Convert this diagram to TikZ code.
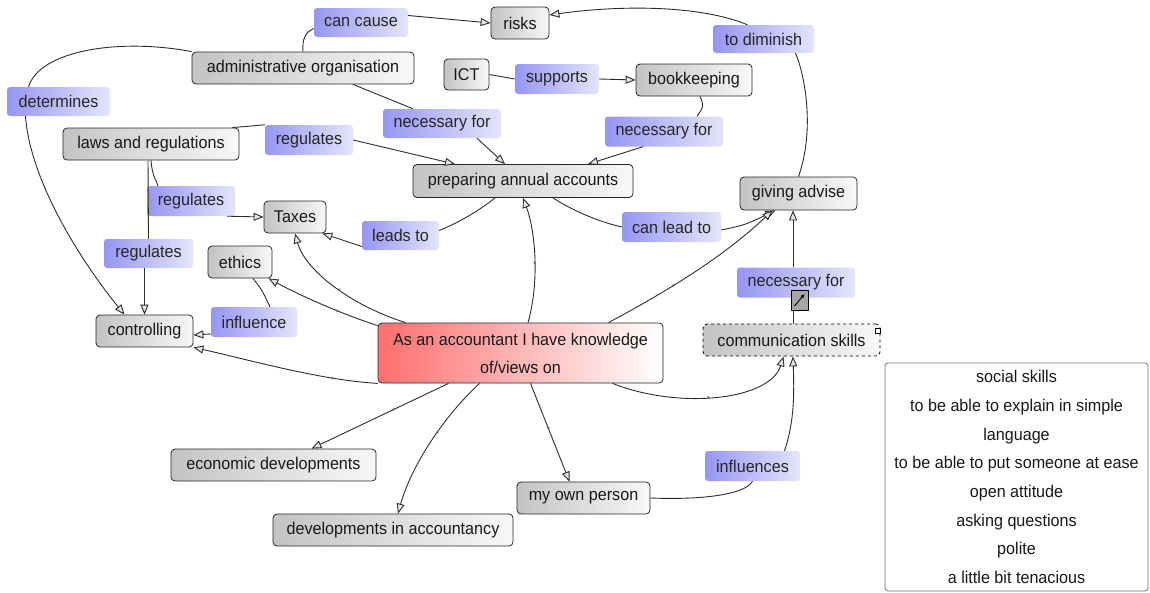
\documentclass[tikz,border=0pt]{standalone}
\usepackage{fontspec}
\setmainfont{Liberation Sans}[FakeStretch=0.95]
\usetikzlibrary{arrows.meta,calc}
\definecolor{lblL}{RGB}{150,150,242}
\definecolor{lblR}{RGB}{228,228,253}
\definecolor{conL}{RGB}{195,195,195}
\definecolor{conR}{RGB}{248,248,248}
\definecolor{redL}{RGB}{255,110,110}
\definecolor{edgec}{RGB}{45,45,45}
\begin{document}
\begin{tikzpicture}[x=1pt,y=-1pt,
  font=\fontsize{17}{20}\selectfont,
  concept/.style={draw=black!85, line width=0.8pt, rounded corners=4pt, left color=conL, right color=conR, minimum height=32pt, inner sep=0pt, text=black!90},
  linklbl/.style={rounded corners=3pt, left color=lblL, right color=lblR, minimum height=29pt, inner sep=0pt, text=black!85},
  link/.style={draw=edgec, line width=0.9pt},
  arr/.style={link, -{Triangle[length=10pt,width=8pt,fill=black!10]}},
  dotm/.style={circle, fill=black!55, inner sep=0pt, minimum size=3pt},
]
\useasboundingbox (0,0) rectangle (1150,592);

% concepts
\node[concept, minimum width=222pt] (adm) at (303,68) {administrative organisation};
\node[concept, minimum width=58pt] (risks) at (520,23) {risks};
\node[concept, minimum width=45pt, minimum height=31pt] (ict) at (466.5,74.5) {ICT};
\node[concept, minimum width=116pt] (book) at (694,80) {bookkeeping};
\node[concept, minimum width=220pt, minimum height=33pt] (prep) at (523,181) {preparing annual accounts};
\node[concept, minimum width=117pt, minimum height=33pt] (give) at (798.5,193.5) {giving advise};
\node[concept, minimum width=176pt] (laws) at (151,144) {laws and regulations};
\node[concept, minimum width=62pt] (taxes) at (295,217) {Taxes};
\node[concept, minimum width=64pt] (ethics) at (240,262) {ethics};
\node[concept, minimum width=97pt] (ctrl) at (144.5,331) {controlling};
\node[concept, minimum width=285pt, minimum height=60pt, left color=redL, right color=white, align=center, font=\fontsize{17}{28}\selectfont] (central) at (520.5,353) {As an accountant I have knowledge\\of/views on};
\node[concept, dashed, draw=black, minimum width=177pt] (comm) at (791.5,340) {communication skills};
\node[concept, minimum width=205pt] (econ) at (273.5,465) {economic developments};
\node[concept, minimum width=240pt] (devacc) at (393,530) {developments in accountancy};
\node[concept, minimum width=133pt] (myown) at (583.5,498) {my own person};

% link labels
\node[linklbl, minimum width=94pt] (cancause) at (361,22.5) {can cause};
\node[linklbl, minimum width=101pt, minimum height=28pt] (todim) at (763.5,39) {to diminish};
\node[linklbl, minimum width=84pt, minimum height=30pt] (supports) at (557,79) {supports};
\node[linklbl, minimum width=118pt] (nec1) at (442,123.5) {necessary for};
\node[linklbl, minimum width=118pt, minimum height=30pt] (nec2) at (664,131.5) {necessary for};
\node[linklbl, minimum width=103pt] (determines) at (58.5,101.5) {determines};
\node[linklbl, minimum width=88pt, minimum height=30pt] (reg1) at (309,140) {regulates};
\node[linklbl, minimum width=88pt, minimum height=30pt] (reg2) at (191,201) {regulates};
\node[linklbl, minimum width=89pt] (reg3) at (148.5,253.5) {regulates};
\node[linklbl, minimum width=77pt] (leadsto) at (400.5,235.5) {leads to};
\node[linklbl, minimum width=99pt, minimum height=30pt] (canlead) at (671.5,227) {can lead to};
\node[linklbl, minimum width=86pt, minimum height=30pt] (influence) at (254,322) {influence};
\node[linklbl, minimum width=118pt, minimum height=30pt] (nec3) at (796,282.5) {necessary for};
\node[linklbl, minimum width=95pt, minimum height=30pt] (influences) at (752.5,466) {influences};

% text box
\node[draw=black!55, line width=0.8pt, rounded corners=3pt, fill=white, minimum width=263pt, minimum height=228pt, inner sep=0pt, align=center, font=\fontsize{17}{28.7}\selectfont, text=black!90] (notes) at (1016.5,477) {social skills\\to be able to explain in simple\\language\\to be able to put someone at ease\\open attitude\\asking questions\\polite\\a little bit tenacious};

% links
\draw[link] (adm.north) .. controls (302,40) and (305,32) .. ([yshift=-6pt]cancause.west);
\draw[arr] ([yshift=7pt]cancause.east) -- (risks.west);
\draw[link] (adm.north west) .. controls (120,38) and (40,50) .. ([xshift=-30pt]determines.north);
\draw[arr] ([xshift=-33pt]determines.south) .. controls (30,180) and (80,260) .. ([xshift=-20pt]ctrl.north);
\draw[link] ([xshift=50pt]adm.south) -- ([xshift=-29pt]nec1.north);
\draw[arr] ([xshift=35pt]nec1.south) -- ([xshift=-18pt]prep.north);
\draw[link] ([xshift=-7pt]laws.north east) -- (reg1.north west);
\draw[arr] (reg1.east) -- ([xshift=-68pt]prep.north);
\draw[link] (laws.south) .. controls (152,175) and (156,180) .. ([xshift=-33pt]reg2.north);
\draw[arr] ([xshift=-8pt]reg2.south east) -- (taxes.west);
\draw[link] ([xshift=-3pt]laws.south) -- (reg3.north);
\draw[arr] ([xshift=-4pt]reg3.south) -- (ctrl.north);
\draw[link] (ict.east) -- (supports.west);
\draw[arr] (supports.east) -- (book.west);
\draw[link] ([xshift=6pt]book.south) .. controls (704,106) .. ([xshift=33pt]nec2.north);
\draw[arr] ([xshift=-21pt]nec2.south) -- ([xshift=65pt]prep.north);
\draw[link] ([xshift=-28pt]prep.south) .. controls (480,210) and (460,222) .. ([yshift=5pt]leadsto.east);
\draw[arr] ([yshift=-11pt]leadsto.west) -- ([xshift=-4pt]taxes.south east);
\draw[link] ([xshift=30pt]prep.south) .. controls (575,212) and (600,222) .. (canlead.west);
\draw[arr] ([yshift=-3pt]canlead.east) .. controls (745,225) .. ([xshift=-23pt]give.south);
\draw[link] (give.north) .. controls (815,130) and (805,75) .. ([xshift=32pt]todim.south);
\draw[arr] ([xshift=-16pt]todim.north) .. controls (700,5) and (620,5) .. ([yshift=8pt]risks.east);
\draw[link] ([xshift=1.5pt]comm.north) -- ([xshift=-3pt]nec3.south);
\draw[arr] ([xshift=-3pt]nec3.north) -- ([xshift=-5.5pt]give.south);
\draw[link] (myown.east) .. controls (700,500) and (745,495) .. (influences.south);
\draw[arr] ([xshift=32pt]influences.north) .. controls (795,420) and (794,390) .. ([xshift=1.5pt]comm.south);
\draw[link] ([xshift=13pt]ethics.south) .. controls (262,290) .. ([xshift=16pt]influence.north);
\draw[arr] ([yshift=-12pt]influence.west) -- ([yshift=-4pt]ctrl.east);

% links from the central concept
\draw[arr] ([xshift=-115pt]central.north) .. controls (350,305) and (305,270) .. (taxes.south) node[dotm, pos=0.45] (d1) {};
\draw[arr] ([yshift=-3pt]central.north west) .. controls (330,310) and (290,290) .. ([xshift=-4pt]ethics.south east) node[dotm, pos=0.3] (d2) {};
\draw[arr] (central.south west) .. controls (320,380) and (250,360) .. (ctrl.south east) node[dotm, pos=0.25] (d3) {};
\draw[arr] ([xshift=7.5pt]central.north) .. controls (540,280) and (535,230) .. (prep.south) node[dotm, pos=0.45] (d4) {};
\draw[arr] ([xshift=88pt]central.north) .. controls (660,295) and (720,260) .. ([xshift=-26pt]give.south) node[dotm, pos=0.4] (d5) {};
\draw[arr] ([xshift=92pt]central.south) .. controls (680,410) and (770,400) .. ([xshift=-8pt]comm.south) node[dotm, pos=0.45] (d6) {};
\draw[arr] ([xshift=-72pt]central.south) -- ([xshift=38pt]econ.north) node[dotm, pos=0.4] (d7) {};
\draw[arr] ([xshift=-41pt]central.south) .. controls (440,420) and (410,470) .. ([xshift=5pt]devacc.north) node[dotm, pos=0.4] (d8) {};
\draw[arr] ([xshift=10pt]central.south) -- ([xshift=-14pt]myown.north) node[dotm, pos=0.45] (d9) {};

% small icons
\node[draw=black, line width=0.8pt, fill=black!35, minimum width=17pt, minimum height=20pt, inner sep=0pt] (icon) at (799.5,300) {};
\draw[line width=0.9pt, -{Latex[length=4pt,width=4pt]}] ([shift={(-5pt,-6pt)}]icon.center) -- ([shift={(5pt,6pt)}]icon.center);
\node[draw=black, line width=0.7pt, fill=white, minimum size=5pt, inner sep=0pt] (handle) at (877.5,330.5) {};
\end{tikzpicture}
\end{document}
